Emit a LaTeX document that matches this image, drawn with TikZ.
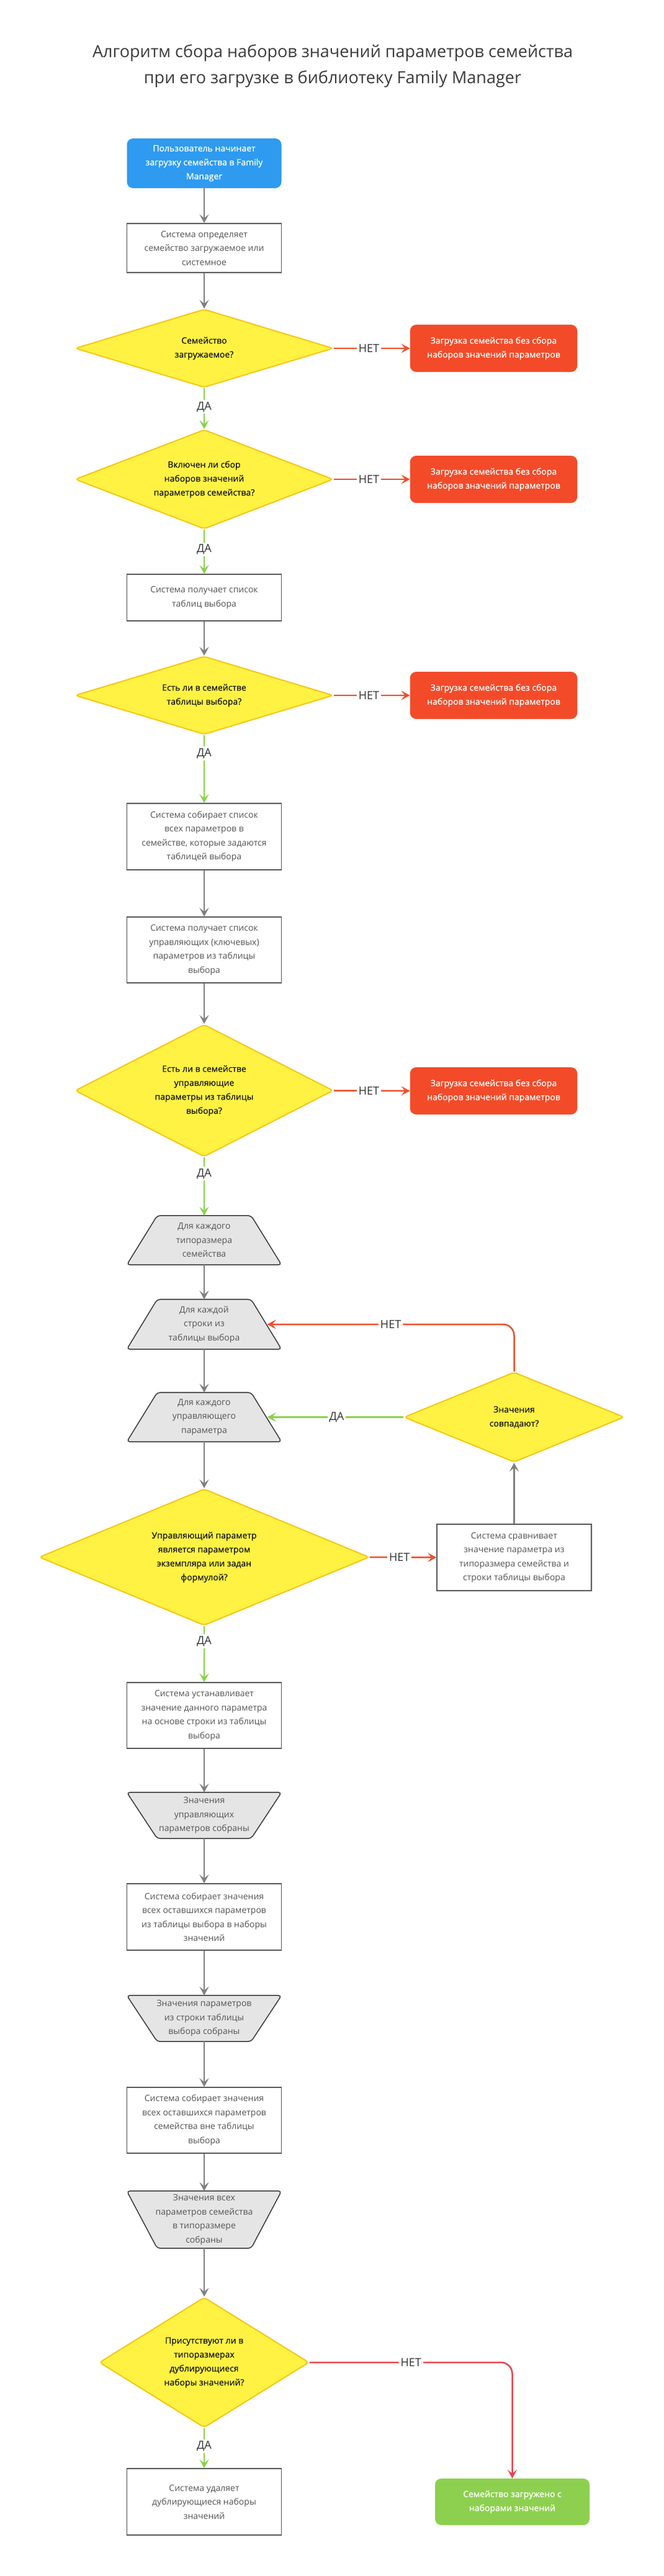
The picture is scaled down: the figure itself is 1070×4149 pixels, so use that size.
\documentclass[tikz,border=0pt]{standalone}
\usepackage{fontspec}
\setmainfont{Open Sans}
\newfontfamily\semib{Open Sans}[FakeBold=0.7]
\usetikzlibrary{shapes.geometric,arrows.meta,calc,backgrounds}
\definecolor{cblue}{HTML}{2E9BF0}
\definecolor{cred}{HTML}{F34B29}
\definecolor{credline}{HTML}{F04E2B}
\definecolor{cpink}{HTML}{E8454F}
\definecolor{cgreenl}{HTML}{8AD14B}
\definecolor{cgreen}{HTML}{8DD04F}
\definecolor{cyel}{HTML}{FFF243}
\definecolor{cyelb}{HTML}{F7C614}
\definecolor{carrow}{HTML}{808080}
\definecolor{cbox}{HTML}{5A5A5A}
\definecolor{ctrap}{HTML}{E5E5E5}
\definecolor{ctrapb}{HTML}{3A3A3A}
\definecolor{ctext}{HTML}{555555}
\definecolor{clabel}{HTML}{333333}
\definecolor{ctitle}{HTML}{3C3C3C}
\tikzset{
  base/.style={inner sep=0pt, align=center, font=\fontsize{14}{22.5}\selectfont},
  sbase/.style={inner sep=0pt, align=center, font=\semib\fontsize{14}{22.5}\selectfont},
  procbox/.style={base, draw=cbox, line width=1.5pt, fill=white, text=ctext, minimum width=249pt},
  termblue/.style={sbase, fill=cblue, rounded corners=10pt, text=white, minimum width=249pt, minimum height=80pt},
  termred/.style={sbase, fill=cred, rounded corners=10pt, text=white, minimum width=269.5pt, minimum height=76pt},
  termgreen/.style={sbase, fill=cgreen, rounded corners=10pt, text=white, minimum width=249pt, minimum height=75pt},
  decision/.style={sbase, diamond, draw=cyelb, fill=cyel, line width=2pt, rounded corners=5pt, text=black!90},
  traptext/.style={base, text=ctext, minimum width=249pt},
  trapshape/.style={draw=ctrapb, fill=ctrap, line width=1.5pt, rounded corners=5pt},
  tip/.style={-{Stealth[length=14pt,width=15pt,inset=6pt]}},
  flow/.style={draw=carrow, line width=2.5pt, tip},
  yesflow/.style={draw=cgreenl, line width=2.5pt, tip},
  noflow/.style={draw=credline, line width=2.5pt, tip},
  noflowb/.style={draw=cpink, line width=2.5pt, tip},
  lbl/.style={fill=white, inner sep=3pt, text=clabel, font=\fontsize{18}{20}\selectfont},
}
\begin{document}
\begin{tikzpicture}[x=1pt,y=-1pt]
\begin{scope}[on background layer]
\fill[white] (0,0) rectangle (1070,4149);
\end{scope}
\useasboundingbox (0,0) rectangle (1070,4149);

% title
\node[align=center, text=ctitle, font=\fontsize{27}{42}\selectfont] (title) at (536,106)
  {Алгоритм сбора наборов значений параметров семейства\\при его загрузке в библиотеку Family Manager};

% nodes
\node[termblue] (start) at (329,263) {Пользователь начинает\\загрузку семейства в Family\\Manager};
\node[procbox, minimum height=79pt] (b1) at (329,399.5) {Система определяет\\семейство загружаемое или\\системное};
\node[decision, aspect=3.3, minimum width=416pt, minimum height=126pt] (d1) at (329,561) {Семейство\\загружаемое?};
\node[termred] (r1) at (795.5,561) {Загрузка семейства без сбора\\наборов значений параметров};
\node[decision, aspect=2.6, minimum width=416pt, minimum height=160pt] (d2) at (329,772) {Включен ли сбор\\наборов значений\\параметров семейства?};
\node[termred] (r2) at (795.5,772) {Загрузка семейства без сбора\\наборов значений параметров};
\node[procbox, minimum height=75pt] (b2) at (329,962.5) {Система получает список\\таблиц выбора};
\node[decision, aspect=3.3, minimum width=416pt, minimum height=126pt] (d3) at (329,1120) {Есть ли в семействе\\таблицы выбора?};
\node[termred] (r3) at (795.5,1120) {Загрузка семейства без сбора\\наборов значений параметров};
\node[procbox, minimum height=107pt] (b3) at (329,1347.5) {Система собирает список\\всех параметров в\\семействе, которые задаются\\таблицей выбора};
\node[procbox, minimum height=106pt] (b4) at (329,1530) {Система получает список\\управляющих (ключевых)\\параметров из таблицы\\выбора};
\node[decision, aspect=1.95, minimum width=416pt, minimum height=213pt] (d4) at (329,1756.5) {Есть ли в семействе\\управляющие\\параметры из таблицы\\выбора?};
\node[termred] (r4) at (795.5,1757) {Загрузка семейства без сбора\\наборов значений параметров};
\node[traptext, minimum height=79pt] (t1) at (329,1997.5) {Для каждого\\типоразмера\\семейства};
\node[traptext, minimum height=80pt] (t2) at (329,2133) {Для каждой\\строки из\\таблицы выбора};
\node[traptext, minimum height=79pt] (t3) at (329,2282.5) {Для каждого\\управляющего\\параметра};
\node[decision, aspect=2.45, minimum width=355pt, minimum height=145pt] (d5) at (828.5,2282.5) {Значения\\совпадают?};
\node[decision, aspect=2.42, minimum width=532pt, minimum height=220pt] (d6) at (329,2508) {Управляющий параметр\\является параметром\\экземпляра или задан\\формулой?};
\node[procbox, minimum height=107pt] (b5) at (828.5,2508.5) {Система сравнивает\\значение параметра из\\типоразмера семейства и\\строки таблицы выбора};
\node[procbox, minimum height=106pt] (b6) at (329,2763) {Система устанавливает\\значение данного параметра\\на основе строки из таблицы\\выбора};
\node[traptext, minimum height=74pt] (t4) at (329,2924) {Значения\\управляющих\\параметров собраны};
\node[procbox, minimum height=107pt] (b7) at (329,3087.5) {Система собирает значения\\всех оставшихся параметров\\из таблицы выбора в наборы\\значений};
\node[traptext, minimum height=74pt] (t5) at (329,3251) {Значения параметров\\из строки таблицы\\выбора собраны};
\node[procbox, minimum height=106pt] (b8) at (329,3415) {Система собирает значения\\всех оставшихся параметров\\семейства вне таблицы\\выбора};
\node[traptext, minimum height=92pt] (t6) at (329,3575) {Значения всех\\параметров семейства\\в типоразмере\\собраны};
\node[decision, aspect=1.61, minimum width=338pt, minimum height=210pt] (d7) at (329,3805) {Присутствуют ли в\\типоразмерах\\дублирующиеся\\наборы значений?};
\node[procbox, minimum height=107pt] (b9) at (329,4029.5) {Система удаляет\\дублирующиеся наборы\\значений};
\node[termgreen] (g1) at (825.5,4029.5) {Семейство загружено с\\наборами значений};

% trapezoid shapes
\begin{scope}[on background layer]
\draw[trapshape] ($(t1.north west)+(49,0)$) -- ($(t1.north east)+(-49,0)$) -- (t1.south east) -- (t1.south west) -- cycle;
\draw[trapshape] ($(t2.north west)+(49,0)$) -- ($(t2.north east)+(-49,0)$) -- (t2.south east) -- (t2.south west) -- cycle;
\draw[trapshape] ($(t3.north west)+(49,0)$) -- ($(t3.north east)+(-49,0)$) -- (t3.south east) -- (t3.south west) -- cycle;
\draw[trapshape] (t4.north west) -- (t4.north east) -- ($(t4.south east)+(-49,0)$) -- ($(t4.south west)+(49,0)$) -- cycle;
\draw[trapshape] (t5.north west) -- (t5.north east) -- ($(t5.south east)+(-49,0)$) -- ($(t5.south west)+(49,0)$) -- cycle;
\draw[trapshape] (t6.north west) -- (t6.north east) -- ($(t6.south east)+(-49,0)$) -- ($(t6.south west)+(49,0)$) -- cycle;
\end{scope}
\coordinate (t2r) at ($(t2.east)+(-23,0)$);
\coordinate (t3r) at ($(t3.east)+(-23,0)$);

% connectors
\draw[flow] (start.south) -- (b1.north);
\draw[flow] (b1.south) -- (d1.north);
\draw[noflow] (d1.east) -- node[lbl,pos=0.46]{НЕТ} (r1.west);
\draw[yesflow] (d1.south) -- node[lbl,pos=0.46]{ДА} (d2.north);
\draw[noflow] (d2.east) -- node[lbl,pos=0.46]{НЕТ} (r2.west);
\draw[yesflow] (d2.south) -- node[lbl,pos=0.45]{ДА} (b2.north);
\draw[flow] (b2.south) -- (d3.north);
\draw[noflow] (d3.east) -- node[lbl,pos=0.46]{НЕТ} (r3.west);
\draw[yesflow] (d3.south) -- node[lbl,pos=0.27]{ДА} (b3.north);
\draw[flow] (b3.south) -- (b4.north);
\draw[flow] (b4.south) -- (d4.north);
\draw[noflow] (d4.east) -- node[lbl,pos=0.46]{НЕТ} (r4.west);
\draw[yesflow] (d4.south) -- node[lbl,pos=0.28]{ДА} (t1.north);
\draw[flow] (t1.south) -- (t2.north);
\draw[flow] (t2.south) -- (t3.north);
\draw[flow] (t3.south) -- (d6.north);
\draw[noflow] (d6.east) -- node[lbl,pos=0.444]{НЕТ} (b5.west);
\draw[flow] (b5.north) -- (d5.south);
\draw[yesflow] (d5.west) -- node[lbl,pos=0.49]{ДА} (t3r);
\draw[noflow, rounded corners=18pt] (d5.north) |- node[lbl,pos=0.75]{НЕТ} (t2r);
\draw[yesflow] (d6.south) -- node[lbl,pos=0.27]{ДА} (b6.north);
\draw[flow] (b6.south) -- (t4.north);
\draw[flow] (t4.south) -- (b7.north);
\draw[flow] (b7.south) -- (t5.north);
\draw[flow] (t5.south) -- (b8.north);
\draw[flow] (b8.south) -- (t6.north);
\draw[flow] (t6.south) -- (d7.north);
\draw[yesflow] (d7.south) -- node[lbl,pos=0.45]{ДА} (b9.north);
\draw[noflowb, rounded corners=18pt] (d7.east) -| node[lbl,pos=0.25]{НЕТ} (g1.north);
\end{tikzpicture}
\end{document}
